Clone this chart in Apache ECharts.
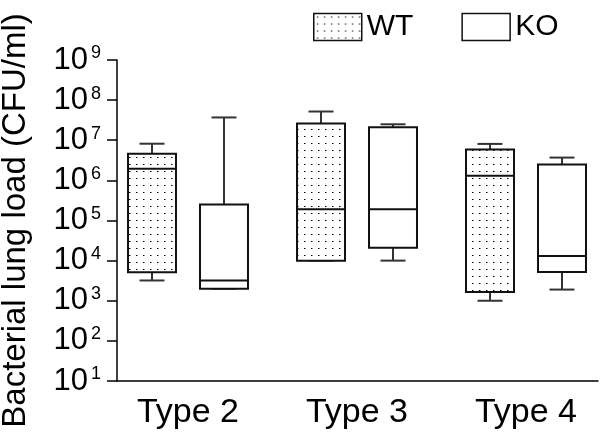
<!DOCTYPE html>
<html><head><meta charset="utf-8">
<script src="https://cdn.jsdelivr.net/npm/echarts@6/dist/echarts.min.js"></script>
<style>html,body{margin:0;padding:0;background:#fff}#c{width:600px;height:434px}</style>
</head><body><div id="c"></div>
<script>
const categories = ['Type 2', 'Type 3', 'Type 4'];
const seriesNames = ['WT', 'KO'];
// five-number summaries [min, Q1, median, Q3, max] (CFU/ml)
const wtBoxes = [
  [3.2e3, 5.1e3, 1.96e6, 4.6e6, 8.2e6],
  [1.0e4, 1.0e4, 1.9e5, 2.6e7, 5.2e7],
  [1.0e3, 1.65e3, 1.3e6, 5.9e6, 8.1e6]
];
const koBoxes = [
  [2.0e3, 2.0e3, 3.2e3, 2.5e5, 3.7e7],
  [1.0e4, 2.1e4, 1.9e5, 2.1e7, 2.5e7],
  [1.9e3, 5.2e3, 1.3e4, 2.5e6, 3.7e6]
];
const yMinValue = 1e1, yMaxValue = 1e9;

const FONT = '"Liberation Sans", Arial, sans-serif';

function dotCanvas() {
  const c = document.createElement('canvas');
  c.width = 7; c.height = 7;
  const ctx = c.getContext('2d');
  ctx.fillStyle = '#ffffff'; ctx.fillRect(0, 0, 7, 7);
  ctx.fillStyle = '#000000'; ctx.fillRect(3, 3, 1, 1);
  ctx.fillStyle = '#888888'; ctx.fillRect(4, 3, 1, 1);
  return c;
}
const dotPattern = { image: dotCanvas(), repeat: 'repeat' };

function makeRenderer(side, fill) {
  return function (params, api) {
    const cat = api.value(0);
    const band = api.size([1, 0])[0];
    const cx = api.coord([cat, api.value(3)])[0] + side * band * 0.213;
    const w = band * 0.284;
    const capW = w * 0.52;
    const y = i => api.coord([cat, api.value(i)])[1];
    const yMin = y(1), yQ1 = y(2), yMed = y(3), yQ3 = y(4), yMax = y(5);
    const line = (x1, y1, x2, y2, stroke) => ({ type: 'line', shape: { x1, y1, x2, y2 }, style: { stroke, lineWidth: 2 } });
    return { type: 'group', children: [
      line(cx, yQ3, cx, yMax, '#333'),
      line(cx - capW / 2, yMax, cx + capW / 2, yMax, '#333'),
      line(cx, yQ1, cx, yMin, '#333'),
      line(cx - capW / 2, yMin, cx + capW / 2, yMin, '#333'),
      { type: 'rect', shape: { x: cx - w / 2, y: yQ3, width: w, height: yQ1 - yQ3 }, style: { fill: fill, stroke: '#111', lineWidth: 2 } },
      line(cx - w / 2, yMed, cx + w / 2, yMed, '#111')
    ] };
  };
}

const chart = echarts.init(document.getElementById('c'), null, { renderer: 'canvas' });
const logAxisBase = { type: 'log', logBase: 10, min: yMinValue, max: yMaxValue, splitNumber: 8, splitLine: { show: false }, minorTick: { show: false } };
chart.setOption({
  animation: false,
  backgroundColor: '#fff',
  legend: {
    left: 313, top: 12, padding: 0, itemWidth: 48, itemHeight: 27, itemGap: 48, icon: 'rect',
    textStyle: { fontSize: 30, color: '#000', fontFamily: FONT },
    data: [
      { name: seriesNames[0], itemStyle: { color: dotPattern, borderColor: '#111', borderWidth: 1.5 } },
      { name: seriesNames[1], itemStyle: { color: '#fff', borderColor: '#111', borderWidth: 1.5 } }
    ]
  },
  grid: [
    { left: 117, right: 2, top: 60, height: 321, outerBoundsMode: 'none', containLabel: false },
    { left: 103.5, width: 507, top: 60, height: 321, outerBoundsMode: 'none', containLabel: false }
  ],
  xAxis: [
    { type: 'value', gridIndex: 0, min: 0, max: 1, axisLine: { show: true, lineStyle: { color: '#000', width: 1.5 } }, axisTick: { show: false }, axisLabel: { show: false }, splitLine: { show: false } },
    { type: 'category', gridIndex: 1, data: categories, axisLine: { show: false }, axisTick: { show: false },
      axisLabel: { fontSize: 34, color: '#000', fontFamily: FONT, margin: 15 } }
  ],
  yAxis: [
    Object.assign({}, logAxisBase, {
      gridIndex: 0,
      name: 'Bacterial lung load (CFU/ml)', nameLocation: 'middle', nameRotate: 90, nameGap: 85,
      nameTextStyle: { fontSize: 33, color: '#000', fontFamily: FONT },
      axisLine: { show: true, lineStyle: { color: '#000', width: 1.5 } },
      axisTick: { show: true, length: 10, lineStyle: { color: '#000', width: 1.5 } },
      axisLabel: {
        margin: 16,
        formatter: v => '{b|10}{s|' + Math.round(Math.log10(v)) + '}',
        rich: {
          b: { fontSize: 31, color: '#000', fontFamily: FONT },
          s: { fontSize: 18, color: '#000', fontFamily: FONT, verticalAlign: 'top', padding: [0, 0, 12, 3] }
        }
      }
    }),
    Object.assign({}, logAxisBase, { gridIndex: 1, show: false })
  ],
  series: [
    { name: seriesNames[0], type: 'custom', xAxisIndex: 1, yAxisIndex: 1, itemStyle: { color: dotPattern },
      renderItem: makeRenderer(-1, dotPattern), encode: { x: 0, y: [1, 2, 3, 4, 5] },
      data: wtBoxes.map((b, i) => [i].concat(b)) },
    { name: seriesNames[1], type: 'custom', xAxisIndex: 1, yAxisIndex: 1, itemStyle: { color: '#fff' },
      renderItem: makeRenderer(1, '#fff'), encode: { x: 0, y: [1, 2, 3, 4, 5] },
      data: koBoxes.map((b, i) => [i].concat(b)) }
  ]
});
</script></body></html>
